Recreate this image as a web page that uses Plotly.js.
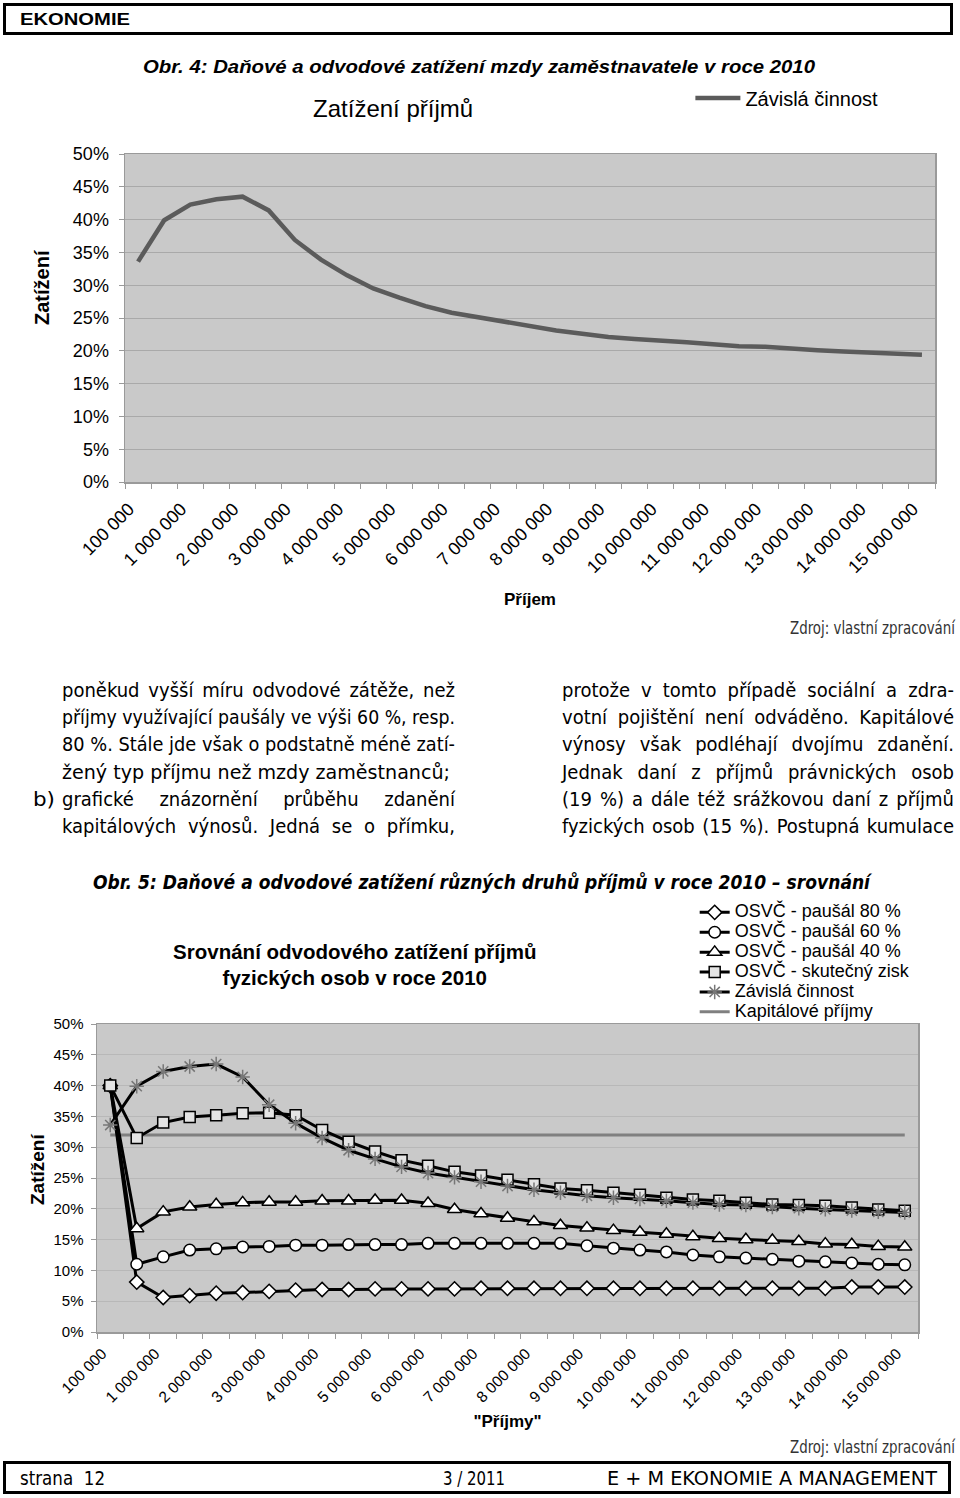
<!DOCTYPE html>
<html><head><meta charset="utf-8">
<script src="https://cdn.plot.ly/plotly-3.0.1.min.js"></script>
<style>
body{margin:0;width:960px;height:1498px;position:relative;background:#fff;font-family:"Liberation Sans",Arial,sans-serif;overflow:hidden}
.chart{position:absolute;left:0;width:960px;z-index:0}
.t{position:absolute;white-space:pre;line-height:1;z-index:2;transform-origin:0 50%;color:#000}
.box{position:absolute;border:3px solid #000;box-sizing:border-box;z-index:1}
.narrow{font-family:"Liberation Sans Narrow","DejaVu Sans Condensed","Liberation Sans",sans-serif}
</style></head>
<body>
<div class="box" style="left:3px;top:3px;width:950px;height:32px"></div>
<div class="box" style="left:3px;top:1461px;width:948px;height:33px"></div>
<div id="c1" class="chart" style="top:0;height:660px"></div>
<div id="c2" class="chart" style="top:860px;height:600px"></div>
<script>
// ---------- data ----------
const incomeCats = ["100 000","500 000","1 000 000","1 500 000","2 000 000","2 500 000","3 000 000","3 500 000","4 000 000","4 500 000","5 000 000","5 500 000","6 000 000","6 500 000","7 000 000","7 500 000","8 000 000","8 500 000","9 000 000","9 500 000","10 000 000","10 500 000","11 000 000","11 500 000","12 000 000","12 500 000","13 000 000","13 500 000","14 000 000","14 500 000","15 000 000"];
const tickLabels = ["100 000","1 000 000","2 000 000","3 000 000","4 000 000","5 000 000","6 000 000","7 000 000","8 000 000","9 000 000","10 000 000","11 000 000","12 000 000","13 000 000","14 000 000","15 000 000"];
const yTicks = [0,5,10,15,20,25,30,35,40,45,50];

const zavisla  = [33.6,39.9,42.3,43.1,43.5,41.4,36.9,33.9,31.5,29.5,28.1,26.8,25.8,25.1,24.4,23.7,23.1,22.6,22.1,21.8,21.6,21.3,21.0,20.7,20.6,20.3,20.1,19.9,19.7,19.5,19.4];
const pausal80 = [40,8.1,5.6,5.9,6.3,6.4,6.6,6.8,6.9,6.9,7.0,7.0,7.0,7.0,7.1,7.1,7.1,7.1,7.1,7.1,7.1,7.1,7.1,7.1,7.1,7.1,7.1,7.1,7.3,7.3,7.3];
const pausal60 = [40,11.0,12.2,13.3,13.5,13.8,13.9,14.1,14.1,14.2,14.2,14.2,14.4,14.4,14.4,14.4,14.4,14.4,14.0,13.6,13.3,13.0,12.5,12.2,12.0,11.8,11.5,11.4,11.2,11.0,10.9];
const pausal40 = [40,16.8,19.5,20.3,20.7,21.0,21.1,21.1,21.3,21.3,21.4,21.4,20.9,19.9,19.2,18.5,17.9,17.3,16.9,16.5,16.2,15.9,15.5,15.2,15.0,14.9,14.7,14.3,14.2,13.9,13.8];
const skutecny = [40,31.5,34.0,34.9,35.2,35.5,35.6,35.2,32.8,30.9,29.3,27.9,27.0,26.0,25.4,24.7,24.0,23.3,23.0,22.6,22.3,21.8,21.5,21.3,21.0,20.7,20.6,20.5,20.2,19.9,19.7];
const kapitalove = [32,32,32,32,32,32,32,32,32,32,32,32,32,32,32,32,32,32,32,32,32,32,32,32,32,32,32,32,32,32,32];

const seriesNames = ["OSVČ - paušál 80 %","OSVČ - paušál 60 %","OSVČ - paušál 40 %","OSVČ - skutečný zisk","Závislá činnost","Kapitálové příjmy"];

// ---------- helpers ----------
const FONT = "Liberation Sans, Arial, sans-serif";
const tickText = incomeCats.map(c => tickLabels.includes(c) ? c : "");
function xAxis(fs, title, standoff, shift, lblOff){
  return {type:"category", categoryorder:"array", categoryarray:incomeCats, tickmode:"array",
    tickvals:incomeCats, ticktext:tickText, tickson:"boundaries", ticks:"outside", ticklen:5,
    tickcolor:"#9a9a9a", tickangle:-45, tickfont:{size:fs}, showgrid:false, showline:true,
    mirror:true, linecolor:"#9a9a9a", linewidth:1.5, range:[-0.5,30.5], fixedrange:true,
    ticklabelshift:shift, ticklabelstandoff:lblOff,
    title:{text:title, font:{size:17}, standoff:standoff}};
}
function yAxis(fs, lblOff, grid){
  return {range:[0,50], tickmode:"array", tickvals:yTicks, ticktext:yTicks.map(v=>v+"%"),
    tickfont:{size:fs}, gridcolor:grid, gridwidth:1, ticks:"outside", ticklen:5,
    tickcolor:"#9a9a9a", showline:true, mirror:true, linecolor:"#9a9a9a", linewidth:1.5,
    zeroline:false, ticklabelstandoff:lblOff, fixedrange:true};
}
function yTitle(xshift, y, fs){
  return {text:"<b>Zatížení</b>", textangle:-90, xref:"paper", yref:"paper", x:0, y:y,
    xanchor:"center", yanchor:"middle", xshift:xshift, showarrow:false, font:{size:fs}};
}

// ---------- chart 1 ----------
Plotly.newPlot("c1", [{
  x:incomeCats, y:zavisla, type:"scatter", mode:"lines", name:seriesNames[4],
  line:{color:"#5b5b5b", width:4.5}
}], {
  width:960, height:660, margin:{l:125,r:25,t:154,b:178},
  paper_bgcolor:"rgba(0,0,0,0)", plot_bgcolor:"#c9c9c9",
  font:{family:FONT, size:17, color:"#000"},
  title:{text:"Zatížení příjmů", font:{size:24}, xref:"paper", x:0.331, xanchor:"center",
    yref:"container", y:1-109/660, yanchor:"middle"},
  showlegend:true,
  legend:{x:0.698, xanchor:"left", y:1.171, yanchor:"middle", font:{size:20}, itemwidth:45,
    bgcolor:"rgba(0,0,0,0)"},
  xaxis:xAxis(18, "<b>Příjem</b>", 17, -9, 8),
  yaxis:yAxis(18, 6, "#a9a9a9"),
  annotations:[yTitle(-83, (482-287)/328, 20)]
}, {staticPlot:true});

// ---------- chart 2 ----------
const mk = (sym, size, fill) => ({symbol:sym, size:size, color:fill, line:{color:"#000", width:1.5}});
const lg = s => '<span style="font-size:18px">' + s + '</span>';
const traces2 = [
  {y:kapitalove, name:lg(seriesNames[5]), mode:"lines", line:{color:"#808080", width:3}, legendrank:6},
  {y:pausal80, name:lg(seriesNames[0]), mode:"lines+markers", line:{color:"#000", width:3}, marker:mk("diamond",11,"#fff"), legendrank:1},
  {y:pausal60, name:lg(seriesNames[1]), mode:"lines+markers", line:{color:"#000", width:3}, marker:mk("circle",11.5,"#fff"), legendrank:2},
  {y:pausal40, name:lg(seriesNames[2]), mode:"lines+markers", line:{color:"#000", width:3}, marker:mk("triangle-up",12.5,"#fff"), legendrank:3},
  {y:skutecny, name:lg(seriesNames[3]), mode:"lines+markers", line:{color:"#000", width:3}, marker:mk("square",11,"#e4e4e4"), legendrank:4},
  {y:zavisla, name:lg(seriesNames[4]), mode:"lines+markers", line:{color:"#000", width:3},
    marker:{symbol:"asterisk-open", size:12, color:"#777", line:{color:"#777", width:1.5}}, legendrank:5}
].map(t => Object.assign({x:incomeCats, type:"scatter"}, t));

Plotly.newPlot("c2", traces2, {
  width:960, height:600, margin:{l:97,r:42,t:164,b:128},
  paper_bgcolor:"rgba(0,0,0,0)", plot_bgcolor:"#c9c9c9",
  font:{family:FONT, size:15, color:"#000"},
  title:{text:"<b>Srovnání odvodového zatížení příjmů<br>fyzických osob v roce 2010</b>", font:{size:20.5},
    xref:"paper", x:0.314, xanchor:"center", yref:"container", y:1-98.5/600, yanchor:"middle"},
  showlegend:true,
  legend:{x:0.728, xanchor:"left", y:1.411, yanchor:"top", font:{size:13}, traceorder:"normal",
    bgcolor:"rgba(0,0,0,0)", tracegroupgap:0},
  xaxis:xAxis(15.5, "<b>\"Příjmy\"</b>", 4, -8, 5),
  yaxis:yAxis(15, 4, "#b8b8b8"),
  annotations:[yTitle(-60, (1332-1170)/308, 19)]
}, {staticPlot:true});

// ---------- page texts ----------
function addText(str, x, cy, w, o){
  o = o || {};
  const fs = o.fs || 18;
  const d = document.createElement("div");
  d.className = "t" + (o.narrow ? " narrow" : "");
  d.textContent = str;
  d.style.left = x + "px";
  d.style.top = (cy - fs*0.5) + "px";
  d.style.fontSize = fs + "px";
  if (o.bold) d.style.fontWeight = "bold";
  if (o.italic) d.style.fontStyle = "italic";
  if (o.color) d.style.color = o.color;
  document.body.appendChild(d);
  if (w) {
    const nat = d.getBoundingClientRect().width;
    const spaces = (str.match(/ /g) || []).length;
    if (o.justify && nat < w && spaces > 0) {
      d.style.wordSpacing = ((w - nat) / spaces) + "px";
    } else {
      d.style.transform = "scaleX(" + (w / nat) + ")";
    }
  }
  return d;
}

addText("EKONOMIE", 20, 19, 110, {fs:17, bold:true});
addText("Obr. 4: Daňové a odvodové zatížení mzdy zaměstnavatele v roce 2010", 143, 66, 672, {fs:19, bold:true, italic:true});
addText("Zdroj: vlastní zpracování", 790, 628, 165, {fs:17, narrow:true, color:"#333"});

const leftLines = ["poněkud vyšší míru odvodové zátěže, než","příjmy využívající paušály ve výši 60 %, resp.","80 %. Stále jde však o podstatně méně zatí-","žený typ příjmu než mzdy zaměstnanců;","grafické znázornění průběhu zdanění","kapitálových výnosů. Jedná se o přímku,"];
const rightLines = ["protože v tomto případě sociální a zdra-","votní pojištění není odváděno. Kapitálové","výnosy však podléhají dvojímu zdanění.","Jednak daní z příjmů právnických osob","(19 %) a dále též srážkovou daní z příjmů","fyzických osob (15 %). Postupná kumulace"];
leftLines.forEach((s,i) => {
  const cy = 690 + i*27.2;
  if (i === 3) addText(s, 62, cy, 388, {fs:20, narrow:true});
  else addText(s, 62, cy, 393, {fs:20, narrow:true, justify:true});
});
addText("b)", 33, 690 + 4*27.2, 22, {fs:20, narrow:true});
rightLines.forEach((s,i) => {
  addText(s, 562, 690 + i*27.2, 392, {fs:20, narrow:true, justify:true});
});

addText("Obr. 5: Daňové a odvodové zatížení různých druhů příjmů v roce 2010 – srovnání", 93, 882, 777, {fs:20, bold:true, italic:true, narrow:true});
addText("Zdroj: vlastní zpracování", 790, 1447, 165, {fs:17, narrow:true, color:"#333"});

addText("strana  12", 20, 1478, 85, {fs:20, narrow:true});
addText("3 / 2011", 443, 1478, 62, {fs:20, narrow:true});
addText("E + M EKONOMIE A MANAGEMENT", 607, 1478, 330, {fs:20, narrow:true});
</script>
</body></html>
